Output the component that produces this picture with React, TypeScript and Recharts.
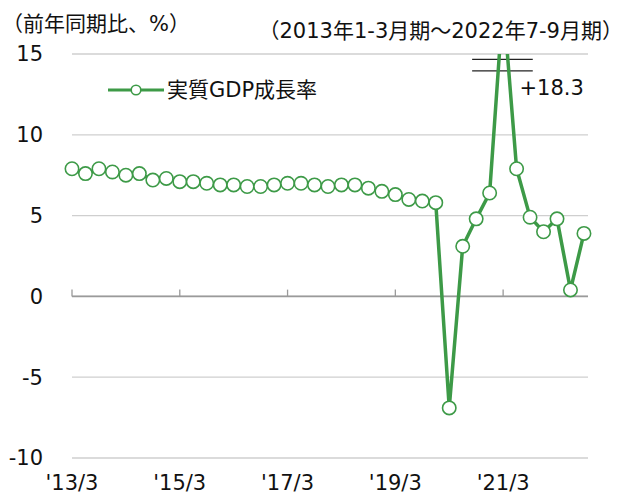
import React from 'react';
import {
  LineChart,
  Line,
  XAxis,
  YAxis,
  CartesianGrid,
  ReferenceLine,
  ReferenceDot,
  Legend,
} from 'recharts';

// Quarters (period end month), 2013 Jan-Mar to 2022 Jul-Sep
const periods: string[] = [
  "'13/3", "'13/6", "'13/9", "'13/12",
  "'14/3", "'14/6", "'14/9", "'14/12",
  "'15/3", "'15/6", "'15/9", "'15/12",
  "'16/3", "'16/6", "'16/9", "'16/12",
  "'17/3", "'17/6", "'17/9", "'17/12",
  "'18/3", "'18/6", "'18/9", "'18/12",
  "'19/3", "'19/6", "'19/9", "'19/12",
  "'20/3", "'20/6", "'20/9", "'20/12",
  "'21/3", "'21/6", "'21/9", "'21/12",
  "'22/3", "'22/6", "'22/9",
];

// Real GDP growth, year-on-year (%)
const gdpGrowth: number[] = [
  7.9, 7.6, 7.9, 7.7,
  7.5, 7.6, 7.2, 7.3,
  7.1, 7.1, 7.0, 6.9,
  6.9, 6.8, 6.8, 6.9,
  7.0, 7.0, 6.9, 6.8,
  6.9, 6.9, 6.7, 6.5,
  6.3, 6.0, 5.9, 5.8,
  -6.9, 3.1, 4.8, 6.4,
  18.3, 7.9, 4.9, 4.0,
  4.8, 0.4, 3.9,
];

const xTickIndexes: number[] = [0, 8, 16, 24, 32];
const yTicks: number[] = [-10, -5, 0, 5, 10, 15];
const seriesName = '実質GDP成長率';
const unitLabel = '（前年同期比、%）';
const rangeLabel = '（2013年1-3月期～2022年7-9月期）';

const data = periods.map((p, i) => ({ idx: i, period: p, gdp: gdpGrowth[i] }));
const peakIdx = gdpGrowth.indexOf(Math.max(...gdpGrowth));
const peakValue = gdpGrowth[peakIdx];

const GREEN = '#3d9a47';
const FONT = "'DejaVu Sans', 'Noto Sans CJK JP', sans-serif";
const FS = 21;

const renderLegend = (props: any) => {
  const item = (props.payload || [])[0];
  if (!item) return null;
  const color = item.color || GREEN;
  return (
    <div style={{ display: 'flex', alignItems: 'center', fontFamily: FONT }}>
      <svg width={56} height={16} style={{ display: 'block' }}>
        <line x1={0} y1={8} x2={56} y2={8} stroke={color} strokeWidth={3.2} />
        <circle cx={28} cy={8} r={4.8} fill="#fff" stroke={color} strokeWidth={1.6} />
      </svg>
      <span style={{ marginLeft: 3, fontSize: FS, lineHeight: '24px', color: '#111', whiteSpace: 'nowrap' }}>
        {item.value}
      </span>
    </div>
  );
};

export default function App() {
  return (
    <div
      style={{
        position: 'absolute',
        left: 0,
        top: 0,
        width: 623,
        height: 497,
        background: '#fff',
        fontFamily: FONT,
        color: '#111',
      }}
    >
      <div style={{ position: 'absolute', left: 2, top: 12, fontSize: FS, lineHeight: '24px', whiteSpace: 'nowrap' }}>
        {unitLabel}
      </div>
      <div style={{ position: 'absolute', right: 0, top: 19, fontSize: FS, lineHeight: '24px', whiteSpace: 'nowrap' }}>
        {rangeLabel}
      </div>
      <LineChart
        width={623}
        height={497}
        data={data}
        margin={{ top: 54, right: 35, bottom: 9, left: 12 }}
        style={{ fontFamily: FONT }}
      >
        <CartesianGrid vertical={false} stroke="#cfcfcf" strokeWidth={1.3} />
        <XAxis
          type="number"
          dataKey="idx"
          domain={[0, 38.3]}
          ticks={xTickIndexes}
          tickFormatter={(v: number) => periods[v]}
          axisLine={false}
          tickLine={false}
          tickSize={6}
          tickMargin={11}
          height={30}
          interval={0}
          tick={{ fill: '#111', fontSize: FS }}
        />
        <YAxis
          domain={[-10, 15]}
          ticks={yTicks}
          allowDataOverflow
          axisLine={false}
          tickLine={false}
          tickSize={6}
          tickMargin={23}
          width={60}
          interval={0}
          tick={{ fill: '#111', fontSize: FS }}
        />
        <ReferenceLine y={0} stroke="#9a9a9a" strokeWidth={1.6} />
        {xTickIndexes.map((i) => (
          <ReferenceLine
            key={`tk${i}`}
            segment={[{ x: i, y: 0 }, { x: i, y: 0.42 }]}
            stroke="#9a9a9a"
            strokeWidth={1.3}
          />
        ))}
        <ReferenceLine
          segment={[{ x: peakIdx - 2.3, y: 14.67 }, { x: peakIdx + 2.2, y: 14.67 }]}
          stroke="#222"
          strokeWidth={1.3}
        />
        <ReferenceLine
          segment={[{ x: peakIdx - 2.3, y: 13.95 }, { x: peakIdx + 2.2, y: 13.95 }]}
          stroke="#222"
          strokeWidth={1.3}
        />
        <ReferenceDot
          x={peakIdx + 3.6}
          y={12.94}
          r={0}
          fill="none"
          stroke="none"
          label={{ value: `+${peakValue.toFixed(1)}`, position: 'center', fill: '#111', fontSize: FS }}
        />
        <Legend
          layout="horizontal"
          verticalAlign="middle"
          align="center"
          content={renderLegend}
          wrapperStyle={{ left: 108, top: 78, width: 'auto' }}
        />
        <Line
          type="linear"
          dataKey="gdp"
          name={seriesName}
          stroke={GREEN}
          strokeWidth={3.5}
          dot={{ r: 6.7, fill: '#fff', stroke: GREEN, strokeWidth: 1.6 }}
          activeDot={false}
          isAnimationActive={false}
        />
      </LineChart>
    </div>
  );
}
